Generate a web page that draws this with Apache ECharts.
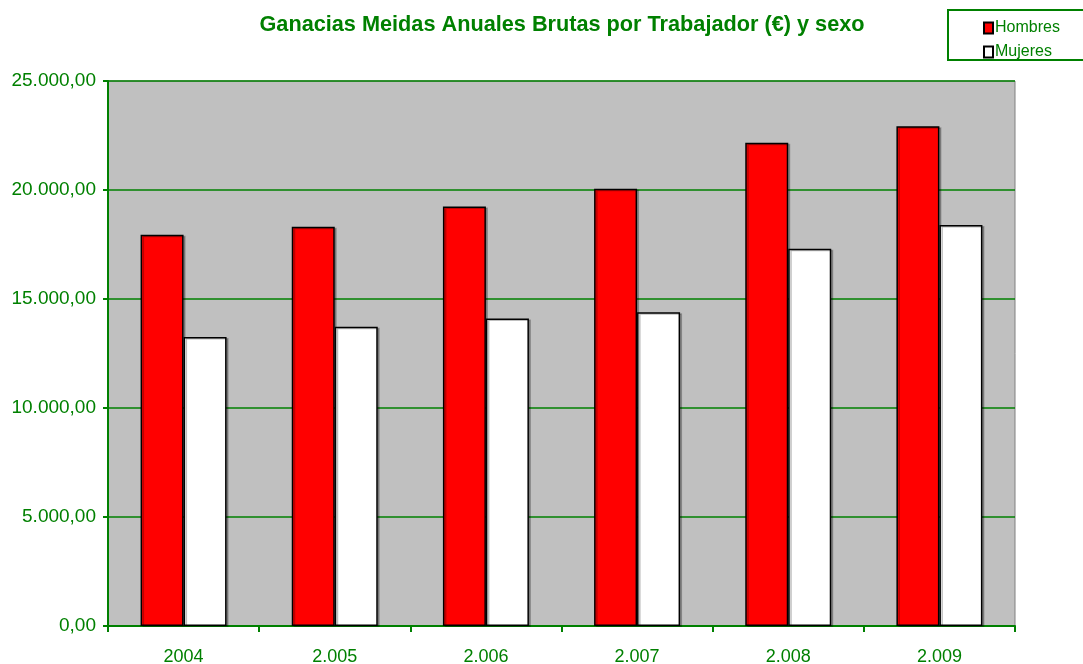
<!DOCTYPE html>
<html>
<head>
<meta charset="utf-8">
<script src="https://cdn.jsdelivr.net/npm/echarts@6/dist/echarts.min.js"></script>
<style>
  html, body { margin: 0; padding: 0; background: #fff; }
  #main { width: 1083px; height: 664px; }
</style>
</head>
<body>
<div id="main"></div>
<script>
// datos del grafico
var years = ['2004', '2.005', '2.006', '2.007', '2.008', '2.009'];
var hombres = [17950, 18310, 19240, 20060, 22170, 22920];
var mujeres = [13260, 13730, 14100, 14390, 17310, 18400];

var green = '#008000';

function fmtEs(v) {
    // 25000 -> 25.000,00
    var s = Math.round(v).toString();
    s = s.replace(/\B(?=(\d{3})+(?!\d))/g, '.');
    return s + ',00';
}

var chart = echarts.init(document.getElementById('main'));

var option = {
    animation: false,
    title: {
        text: 'Ganacias Meidas Anuales Brutas por Trabajador (€) y sexo',
        left: 557,
        textAlign: 'center',
        top: 9,
        textStyle: {
            color: green,
            fontFamily: 'Liberation Sans, Arial, sans-serif',
            fontWeight: 'bold',
            fontSize: 21.7
        }
    },
    legend: {
        orient: 'vertical',
        left: 948,
        top: 10,
        padding: [10, 40, 0, 35],
        itemGap: 8,
        itemWidth: 9,
        itemHeight: 11,
        icon: 'rect',
        borderColor: green,
        borderWidth: 2,
        textStyle: {
            color: green,
            fontFamily: 'Liberation Sans, Arial, sans-serif',
            fontSize: 16,
            padding: [5, 0, 0, -3]
        },
        data: ['Hombres', 'Mujeres']
    },
    grid: {
        left: 108,
        right: 68,
        top: 81,
        bottom: 38,
        outerBoundsMode: 'none',
        show: true,
        backgroundColor: '#C0C0C0',
        borderColor: '#808080',
        borderWidth: 1
    },
    xAxis: {
        type: 'category',
        data: years,
        axisLine: { lineStyle: { color: green, width: 2 } },
        axisTick: { show: true, length: 6, lineStyle: { color: green, width: 2 } },
        axisLabel: {
            color: green,
            fontFamily: 'Liberation Sans, Arial, sans-serif',
            fontSize: 18,
            margin: 22
        }
    },
    yAxis: {
        type: 'value',
        min: 0,
        max: 25000,
        interval: 5000,
        axisLine: { show: true, lineStyle: { color: green, width: 2 } },
        axisTick: { show: true, length: 5, lineStyle: { color: green, width: 2 } },
        splitLine: { lineStyle: { color: green, width: 1.5 } },
        axisLabel: {
            color: green,
            fontFamily: 'Liberation Sans, Arial, sans-serif',
            fontSize: 19,
            margin: 12,
            formatter: fmtEs
        }
    },
    series: [
        {
            name: 'Hombres',
            type: 'bar',
            data: hombres,
            barWidth: 43,
            barGap: '0%',
            itemStyle: {
                color: '#FF0000',
                borderColor: '#000',
                borderWidth: 1.5,
                shadowColor: 'rgba(0,0,0,0.25)',
                shadowOffsetX: 2,
                shadowOffsetY: 1
            }
        },
        {
            name: 'Mujeres',
            type: 'bar',
            data: mujeres,
            barWidth: 43,
            barGap: '0%',
            itemStyle: {
                color: '#FFFFFF',
                borderColor: '#000',
                borderWidth: 1.5,
                shadowColor: 'rgba(0,0,0,0.25)',
                shadowOffsetX: 2,
                shadowOffsetY: 1
            }
        }
    ]
};

chart.setOption(option);
</script>
</body>
</html>
